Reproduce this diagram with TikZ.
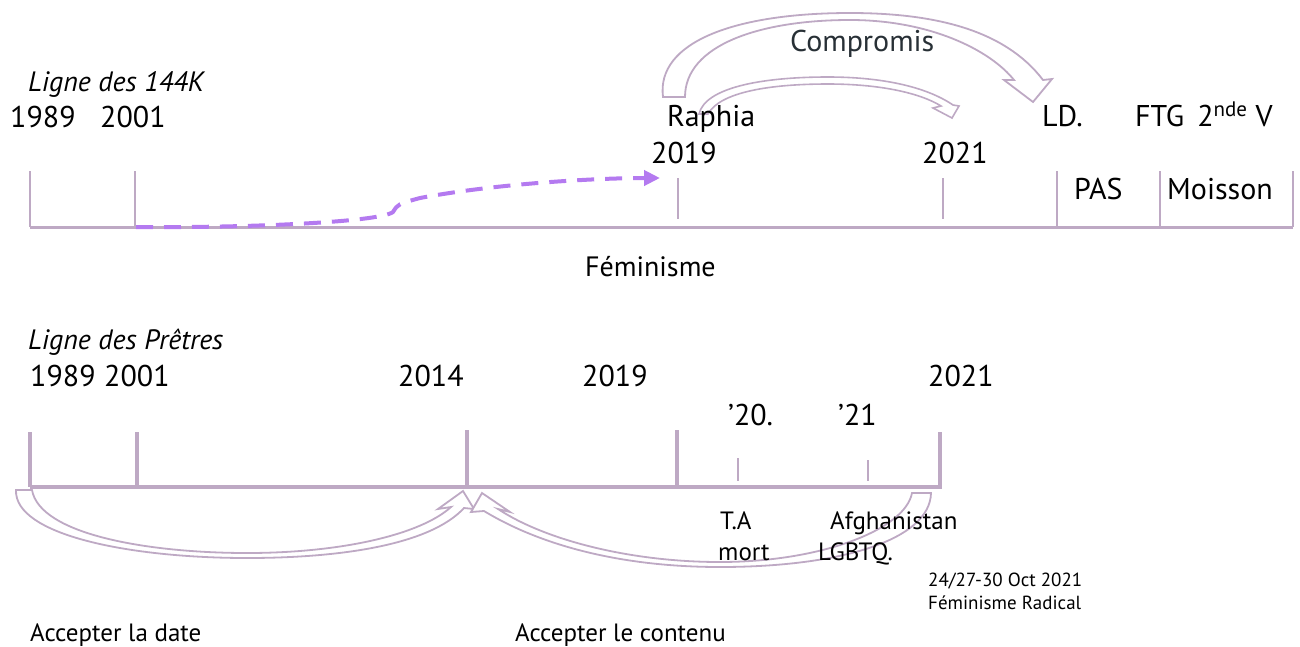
\documentclass[tikz,border=0pt]{standalone}
\usepackage{fontspec}
\setmainfont{PT Sans}
\usetikzlibrary{arrows.meta}
\definecolor{mauve}{RGB}{190,169,196}
\definecolor{lav}{RGB}{180,122,240}
\definecolor{slate}{RGB}{40,48,54}
\begin{document}
\begin{tikzpicture}[x=1pt,y=-1pt,
  lbl/.style={anchor=base west, inner sep=0pt, font=\fontsize{30}{36}\selectfont},
  mid/.style={anchor=base west, inner sep=0pt, font=\fontsize{25}{30}\selectfont},
  sml/.style={anchor=base west, inner sep=0pt, font=\fontsize{19}{23}\selectfont},
  ttl/.style={anchor=base west, inner sep=0pt, font=\fontsize{28}{34}\selectfont\itshape},
  axis/.style={draw=mauve, line width=3pt},
  thickaxis/.style={draw=mauve, line width=4pt},
  tick/.style={draw=mauve, line width=2pt},
  thicktick/.style={draw=mauve, line width=4pt},
  blockarrow/.style={draw=mauve, line width=1.8pt, fill=white, line join=miter},
  dasharrow/.style={draw=lav, line width=4pt, dash pattern=on 17pt off 11pt, -{Triangle[length=16pt,width=15pt]}}
]
\useasboundingbox (0,0) rectangle (1300,646);

% ---------- top timeline ----------
\coordinate (A0) at (30,227);
\coordinate (A1) at (1293,227);
\draw[axis] (A0) -- (A1);
\draw[tick] (30,171) -- (A0);
\draw[tick] (135,171) -- (135,227);
\draw[tick] (678,178) -- (678,219);
\draw[tick] (943,178) -- (943,219);
\draw[tick] (1057,171) -- (1057,227);
\draw[tick] (1160,171) -- (1160,227);
\draw[tick] (1293,171) -- (A1);

% dashed arrow
\coordinate (d0) at (136,227);
\coordinate (d1) at (660,178);
\draw[dasharrow] (d0) .. controls (250,228) and (380,222) .. (393,212)
  .. controls (398,204) .. (420,198) .. controls (500,183) and (600,178) .. (d1);

% big block arrow (Compromis)
\draw[blockarrow] (663,97) -- (685,97)
  .. controls (685,45) and (760,20) .. (850,20)
  .. controls (930,20) and (990,50) .. (1014,80)
  -- (1004,80) -- (1033,102) -- (1052,79) -- (1043,80)
  .. controls (1005,30) and (935,13) .. (850,13)
  .. controls (735,13) and (656,42) .. (663,97) -- cycle;

% small block arrow
\draw[blockarrow, line width=1.6pt] (699,114) -- (708,114)
  .. controls (720,92) and (770,84) .. (828,84)
  .. controls (880,84) and (920,93) .. (941,106)
  -- (933,108) -- (952,118) -- (959,106) -- (953,105)
  .. controls (925,86) and (880,77) .. (828,77)
  .. controls (760,77) and (705,88) .. (699,114) -- cycle;

% top texts
\node[ttl] (t144) at (28,91) {Ligne des 144K};
\node[lbl] (y89a) at (10,127) {1989};
\node[lbl] (y01a) at (100,127) {2001};
\node[lbl] (raph) at (667,126) {Raphia};
\node[lbl] (y19a) at (651,163) {2019};
\node[lbl] (y21a) at (922,163) {2021};
\node[lbl] (ld) at (1042,126) {LD.};
\node[lbl] (ftg) at (1135,126) {FTG\, 2\textsuperscript{nde} V};
\node[lbl] (pas) at (1074,199) {PAS};
\node[lbl] (moi) at (1167,199) {Moisson};
\node[lbl, text=slate] (comp) at (790,51) {Compromis};
\node[lbl, font=\fontsize{28}{33}\selectfont] (fem) at (585,276) {Féminisme};

% ---------- bottom timeline ----------
\coordinate (B0) at (30,487);
\coordinate (B1) at (942,487);

% left block arrow
\draw[blockarrow] (16,490) -- (32,490)
  .. controls (40,535) and (150,553) .. (247,553)
  .. controls (340,553) and (420,535) .. (451,507)
  -- (438,509) -- (463,491) -- (474,509) -- (464,508)
  .. controls (430,545) and (340,558) .. (247,558)
  .. controls (130,558) and (14,535) .. (16,490) -- cycle;

% right block arrow
\draw[blockarrow] (912,493) -- (931,493)
  .. controls (930,540) and (840,567) .. (720,567)
  .. controls (620,567) and (540,545) .. (484,511)
  -- (471,512) -- (482,493) -- (510,512) -- (498,509)
  .. controls (545,540) and (630,562) .. (720,562)
  .. controls (820,562) and (905,530) .. (912,493) -- cycle;

\draw[thickaxis] (B0) -- (B1);
\draw[thicktick] (30,432) -- (B0);
\draw[thicktick] (137,432) -- (137,487);
\draw[thicktick] (467,430) -- (467,487);
\draw[thicktick] (677,430) -- (677,487);
\draw[thicktick] (940,432) -- (940,487);
\draw[tick] (738,458) -- (738,481);
\draw[tick] (868,460) -- (868,481);

% bottom texts
\node[ttl] (tpr) at (28,349) {Ligne des Prêtres};
\node[lbl] (y89b) at (30,386) {1989};
\node[lbl] (y01b) at (104,386) {2001};
\node[lbl] (y14b) at (398,386) {2014};
\node[lbl] (y19b) at (582,386) {2019};
\node[lbl] (y21b) at (928,386) {2021};
\node[lbl] (q20) at (728,425) {'20.};
\node[lbl] (q21) at (838,425) {'21};
\node[mid] (ta) at (720,529) {T.A};
\node[mid] (mort) at (718,560) {mort};
\node[mid] (afg) at (830,529) {Afghanistan};
\node[mid] (lgb) at (818,560) {LGBTQ.};
\node[sml] (oct) at (928,586) {24/27-30 Oct 2021};
\node[sml] (fr) at (928,609) {Féminisme Radical};
\node[mid] (acd) at (30,641) {Accepter la date};
\node[mid] (acc) at (515,641) {Accepter le contenu};
\end{tikzpicture}
\end{document}
